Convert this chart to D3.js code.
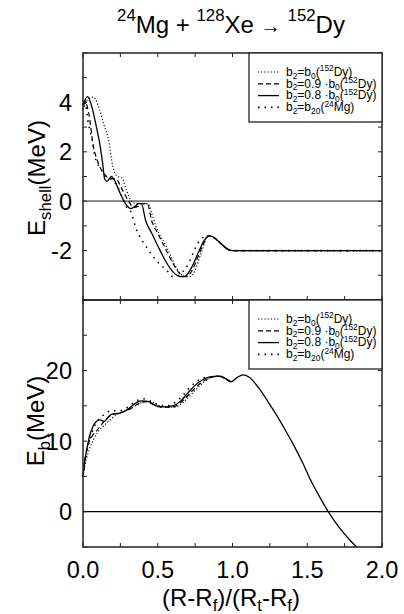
<!DOCTYPE html>
<html>
<head>
<meta charset="utf-8">
<script src="https://cdn.jsdelivr.net/npm/d3@7"></script>
<style>
  body { margin: 0; background: #fff; }
  svg text { font-family: "Liberation Sans", Arial, sans-serif; fill: #000; }
</style>
</head>
<body>
<div id="chart"></div>
<script>
// axis ticks
const xTicks = [0, 0.5, 1, 1.5, 2];
const xMinor = [0, 0.25, 0.5, 0.75, 1, 1.25, 1.5, 1.75, 2];
const shellTicks = [-2, 0, 2, 4];
const shellMinor = [-4, -3, -2, -1, 0, 1, 2, 3, 4, 5, 6];
const ebTicks = [0, 10, 20];
const ebMinor = [-5, 0, 5, 10, 15, 20, 25, 30];

// shell correction (MeV) vs (R-Rf)/(Rt-Rf)
const shellB0 = [[0,3.7],[0.03,4.1],[0.07,4.22],[0.10,3.9],[0.14,3.1],[0.17,2.5],[0.20,1.4],[0.23,1.0],[0.26,0.95],[0.29,0.45],[0.325,0.0],[0.36,-0.1],[0.40,-0.1],[0.435,-0.1],[0.46,-0.5],[0.49,-1.05],[0.56,-1.86],[0.63,-2.75],[0.68,-3.05],[0.72,-3.05],[0.75,-2.8],[0.79,-2.1],[0.84,-1.4],[0.87,-1.45],[0.92,-1.7],[0.97,-1.95],[1.0,-2.0],[1.5,-2.0],[2.0,-2.0]];
const shell09 = [[0,3.8],[0.015,4.0],[0.04,3.5],[0.07,2.2],[0.09,1.75],[0.12,1.3],[0.15,1.05],[0.18,0.9],[0.22,0.9],[0.26,0.5],[0.30,0.05],[0.34,-0.25],[0.37,-0.2],[0.39,-0.1],[0.43,-0.1],[0.46,-0.8],[0.50,-1.3],[0.55,-1.9],[0.60,-2.5],[0.65,-2.95],[0.69,-3.05],[0.72,-2.9],[0.76,-2.4],[0.80,-1.8],[0.84,-1.4],[0.87,-1.45],[0.92,-1.7],[0.97,-1.95],[1.0,-2.0],[1.5,-2.0],[2.0,-2.0]];
const shell08 = [[0,3.9],[0.03,4.23],[0.06,3.8],[0.09,3.0],[0.11,2.4],[0.13,1.6],[0.145,0.9],[0.16,0.8],[0.19,1.0],[0.21,0.85],[0.25,0.3],[0.29,-0.15],[0.32,-0.3],[0.35,-0.2],[0.37,-0.1],[0.39,-0.1],[0.42,-0.8],[0.46,-1.3],[0.50,-1.8],[0.55,-2.4],[0.60,-2.85],[0.65,-3.05],[0.68,-3.05],[0.72,-2.75],[0.77,-2.1],[0.81,-1.6],[0.84,-1.4],[0.87,-1.45],[0.92,-1.7],[0.97,-1.95],[1.0,-2.0],[1.5,-2.0],[2.0,-2.0]];
const shellMg = [[0,3.9],[0.013,4.1],[0.035,3.17],[0.058,2.6],[0.08,1.8],[0.114,1.35],[0.15,1.0],[0.19,0.9],[0.22,0.7],[0.26,0.2],[0.29,-0.23],[0.315,-0.37],[0.36,-1.18],[0.425,-1.86],[0.49,-2.4],[0.56,-2.8],[0.60,-3.05],[0.64,-3.0],[0.69,-2.68],[0.78,-1.6],[0.84,-1.4],[0.87,-1.45],[0.92,-1.7],[0.97,-1.95],[1.0,-2.0],[1.5,-2.0],[2.0,-2.0]];

// barrier E_b (MeV)
const ebB0 = [[0,5.0],[0.015,6.8],[0.04,8.7],[0.07,10.2],[0.10,11.3],[0.14,12.2],[0.18,13.0],[0.23,13.8],[0.29,14.3],[0.35,15.0],[0.40,15.5],[0.45,15.6],[0.50,15.1],[0.55,14.8],[0.61,14.8],[0.66,15.3],[0.71,16.3],[0.76,17.4],[0.81,18.4],[0.86,19.0],[0.91,19.2],[0.96,18.8],[0.99,18.4]];
const eb09 = [[0,5.0],[0.015,7.5],[0.035,9.6],[0.05,10.3],[0.10,11.7],[0.15,13.0],[0.19,13.7],[0.25,14.0],[0.31,14.5],[0.37,15.3],[0.42,15.6],[0.47,15.2],[0.52,14.8],[0.58,14.8],[0.63,15.1],[0.68,16.0],[0.73,17.1],[0.78,18.1],[0.83,18.8],[0.88,19.15],[0.92,19.2],[0.96,18.8],[0.99,18.4]];
const eb08 = [[0,5.0],[0.01,7.0],[0.025,8.8],[0.045,10.8],[0.065,12.0],[0.09,12.8],[0.115,13.0],[0.14,12.8],[0.165,13.3],[0.19,13.8],[0.25,14.0],[0.31,14.7],[0.36,15.5],[0.40,15.7],[0.44,15.6],[0.49,15.0],[0.55,14.85],[0.60,15.0],[0.65,15.6],[0.70,16.8],[0.75,17.9],[0.80,18.7],[0.85,19.1],[0.90,19.2],[0.95,18.9],[0.99,18.4],[1.03,19.0],[1.07,19.4],[1.11,19.1],[1.18,17.4],[1.24,15.5],[1.30,13.5],[1.36,11.3],[1.41,9.4],[1.47,6.9],[1.52,4.6],[1.58,2.2],[1.65,-0.3],[1.72,-2.4],[1.78,-3.9],[1.83,-5.0]];
const ebMg = [[0,5.0],[0.02,8.0],[0.05,10.5],[0.08,12.3],[0.11,13.2],[0.15,13.9],[0.19,14.3],[0.24,14.3],[0.30,14.8],[0.35,15.6],[0.40,16.0],[0.45,15.7],[0.50,15.2],[0.56,15.0],[0.61,15.4],[0.66,16.3],[0.70,17.3],[0.75,18.3],[0.80,18.9],[0.85,19.1],[0.90,19.2],[0.95,18.9],[0.99,18.4]];

// legend labels: [text, "sub" | "sup" | null]
const legendLabels = [
  [["b"],["2","sub"],["=b"],["0","sub"],["("],["152","sup"],["Dy)"]],
  [["b"],["2","sub"],["=0.9 \u00b7b"],["0","sub"],["("],["152","sup"],["Dy)"]],
  [["b"],["2","sub"],["=0.8 \u00b7b"],["0","sub"],["("],["152","sup"],["Dy)"]],
  [["b"],["2","sub"],["=b"],["20","sub"],["("],["24","sup"],["Mg)"]]
];
const styles = [
  { dash: "1.2,2", width: 1.1 },
  { dash: "5,3", width: 1.2 },
  { dash: null, width: 1.3 },
  { dash: "1.5,5", width: 1.6 }
];

const W = 404, H = 614;
const padL = 83, padR = 382, yTop = 53, yMid = 300, yBot = 547;

const svg = d3.select("#chart").append("svg")
  .attr("width", W).attr("height", H);

const x = d3.scaleLinear().domain([0, 2]).range([padL, padR]);
const yShell = d3.scaleLinear().domain([-4, 6]).range([yMid, yTop]);
const yEb = d3.scaleLinear().domain([-5, 30]).range([yBot, yMid]);

// write text with sub/superscripts as tspans
function richText(sel, parts, size, subShift = 0.3, supShift = 0.45) {
  let shift = 0;
  parts.forEach(p => {
    let target = 0, fs = size;
    if (p[1] === "sub") { target = size * subShift; fs = size * 0.7; }
    if (p[1] === "sup") { target = -size * supShift; fs = size * 0.7; }
    if (p[1] === "small") { fs = size * 0.85; }
    sel.append("tspan")
      .attr("dy", target - shift)
      .attr("font-size", fs)
      .text(p[0]);
    shift = target;
  });
}

function panel(y, y0, y1, minorY, majorY, data, zeroColor, zeroWidth) {
  const g = svg.append("g");

  // zero line
  g.append("line")
    .attr("x1", padL).attr("x2", padR)
    .attr("y1", y(0)).attr("y2", y(0))
    .attr("stroke", zeroColor).attr("stroke-width", zeroWidth);

  const line = d3.line()
    .x(d => x(d[0])).y(d => y(d[1]))
    .curve(d3.curveMonotoneX);

  data.forEach((s, i) => {
    g.append("path")
      .attr("d", line(s))
      .attr("fill", "none")
      .attr("stroke", "#000")
      .attr("stroke-width", styles[i].width)
      .attr("stroke-dasharray", styles[i].dash);
  });

  // ticks on all four sides
  const tl = 4;
  xMinor.forEach(v => {
    g.append("line").attr("x1", x(v)).attr("x2", x(v))
      .attr("y1", y0).attr("y2", y0 - tl).attr("stroke", "#222");
    g.append("line").attr("x1", x(v)).attr("x2", x(v))
      .attr("y1", y1).attr("y2", y1 + tl).attr("stroke", "#222");
  });
  minorY.forEach(v => {
    g.append("line").attr("x1", padL).attr("x2", padL + tl)
      .attr("y1", y(v)).attr("y2", y(v)).attr("stroke", "#222");
    g.append("line").attr("x1", padR).attr("x2", padR - tl)
      .attr("y1", y(v)).attr("y2", y(v)).attr("stroke", "#222");
  });

  majorY.forEach(v => {
    g.append("text")
      .attr("x", padL - 11).attr("y", y(v) + 8.5)
      .attr("text-anchor", "end")
      .attr("font-size", 23.5)
      .text(v < 0 ? "-" + Math.abs(v) : v);
  });

  // frame
  g.append("rect")
    .attr("x", padL).attr("y", y1)
    .attr("width", padR - padL).attr("height", y0 - y1)
    .attr("fill", "none").attr("stroke", "#222").attr("stroke-width", 1.5);

  // legend
  const lx = 249, lw = padR - lx, lh = 69;
  const lg = g.append("g");
  lg.append("rect")
    .attr("x", lx).attr("y", y1).attr("width", lw).attr("height", lh)
    .attr("fill", "#fff").attr("stroke", "#222").attr("stroke-width", 1.3);
  legendLabels.forEach((parts, i) => {
    const ry = y1 + 19 + i * 11.8;
    lg.append("line")
      .attr("x1", 258).attr("x2", 279)
      .attr("y1", ry).attr("y2", ry)
      .attr("stroke", "#000")
      .attr("stroke-width", styles[i].width)
      .attr("stroke-dasharray", styles[i].dash);
    const t = lg.append("text")
      .attr("x", 286).attr("y", ry + 3.8)
      .attr("font-size", 12);
    richText(t, parts, 12, 0.24, 0.38);
  });
}

panel(yShell, yMid, yTop, shellMinor, shellTicks, [shellB0, shell09, shell08, shellMg], "#777", 1.8);
panel(yEb, yBot, yMid, ebMinor, ebTicks, [ebB0, eb09, eb08, ebMg], "#000", 1.3);

// x tick labels
xTicks.forEach(v => {
  svg.append("text")
    .attr("x", x(v)).attr("y", 578)
    .attr("text-anchor", "middle")
    .attr("font-size", 23.5)
    .text(d3.format(".1f")(v));
});

// x axis title
const xt = svg.append("text")
  .attr("x", 231).attr("y", 606)
  .attr("text-anchor", "middle")
  .attr("font-size", 24);
richText(xt, [["(R-R"],["f","sub"],[")/(R"],["t","sub"],["-R"],["f","sub"],[")"]], 24, 0.22);

// y axis titles
const yt1 = svg.append("text")
  .attr("transform", "translate(45,178) rotate(-90)")
  .attr("text-anchor", "middle")
  .attr("font-size", 24);
richText(yt1, [["E"],["shell","sub"],["(MeV)"]], 24, 0.25);

const yt2 = svg.append("text")
  .attr("transform", "translate(44,421) rotate(-90)")
  .attr("text-anchor", "middle")
  .attr("font-size", 24);
richText(yt2, [["E"],["b","sub"],["(MeV)"]], 24, 0.25);

// title
const tt = svg.append("text")
  .attr("x", 231).attr("y", 33)
  .attr("text-anchor", "middle")
  .attr("font-size", 24);
richText(tt, [["24","sup"],["Mg + "],["128","sup"],["Xe "],["\u2192","small"],[" "],["152","sup"],["Dy"]], 24, 0.3, 0.5);
</script>
</body>
</html>
